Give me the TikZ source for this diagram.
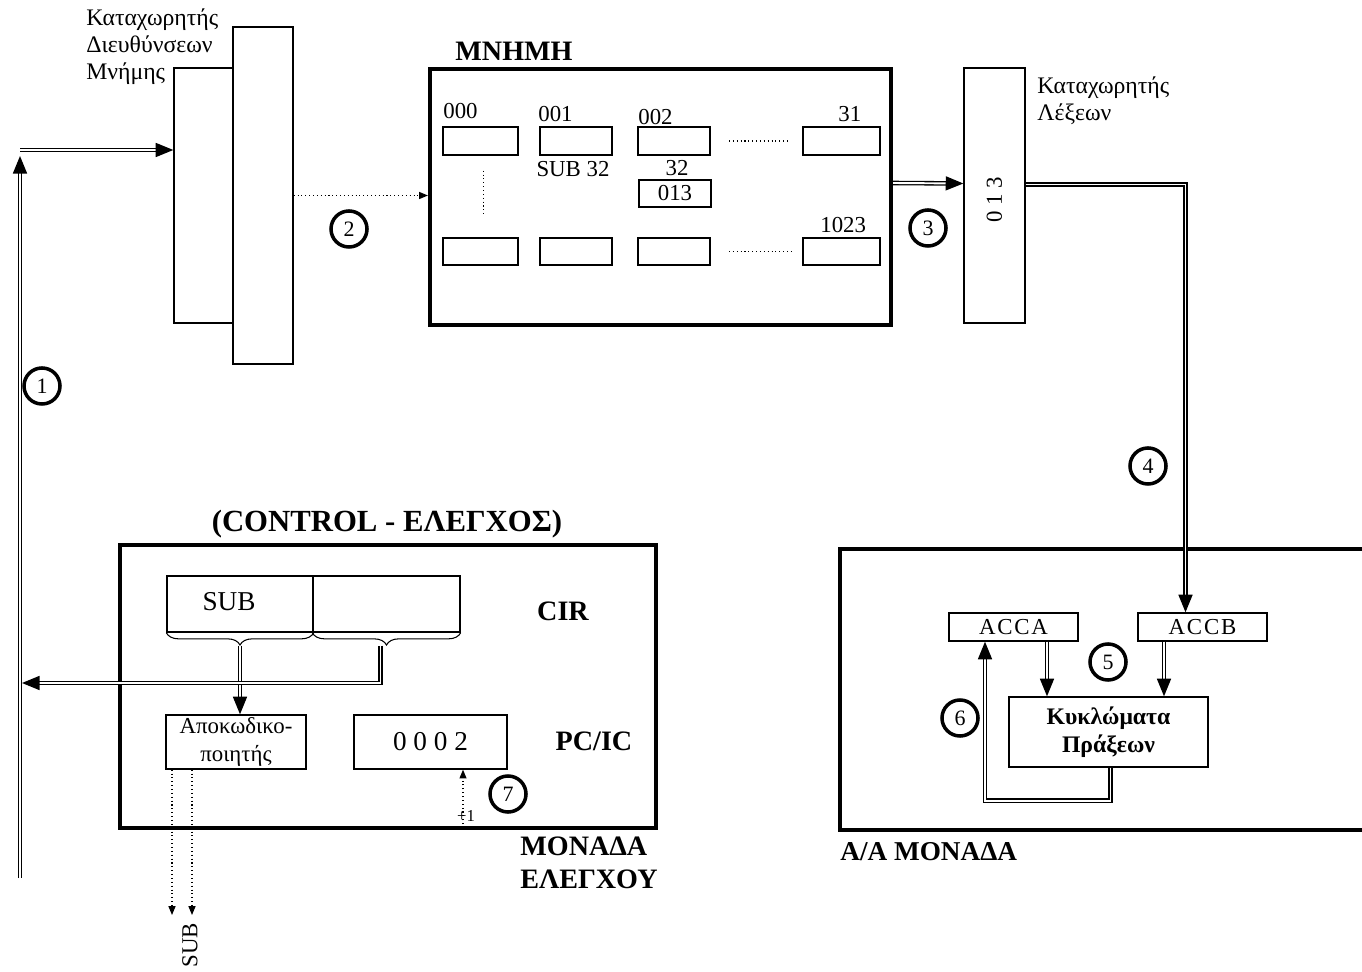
\documentclass[tikz,border=0pt]{standalone}
\usepackage{fontspec}
\setmainfont{Liberation Serif}
\usetikzlibrary{positioning,arrows.meta,calc,fit,decorations.pathreplacing}

\tikzset{
  box/.style={draw, line width=0.8pt, inner sep=0pt},
  unitbox/.style={draw, line width=2.4pt, inner sep=0pt},
  dbl/.style={double, double distance=1.1pt, line width=0.75pt},
  tip/.style={-{Triangle[length=10pt,width=8pt]}},
  smalltip/.style={-{Triangle[length=5pt,width=4pt]}},
  dots/.style={line width=0.6pt, dash pattern=on 0.6pt off 1.6pt},
  numcirc/.style={circle, draw, line width=2pt, inner sep=0pt, minimum size=20.5pt, font=\fontsize{12.5}{12.5}\selectfont},
  lbl/.style={inner sep=0pt, font=\fontsize{13}{13}\selectfont},
  title/.style={inner sep=0pt, font=\fontsize{16}{16}\selectfont\bfseries}
}

\begin{document}
\begin{tikzpicture}[x=0.02cm,y=-0.02cm]
\useasboundingbox (0,0) rectangle (1362,972);
% Address register
\node[box, fit={(174,68) (233,323)}] (marA) {};
\node[box, fit={(233,27) (293,364)}] (marB) {};
\node[lbl, anchor=north west, align=left, font=\fontsize{13.5}{15.5}\selectfont] (marlbl) at (86,8) {Καταχωρητής\\Διευθύνσεων\\Μνήμης};
% Left bus
\coordinate (busbot) at (20,878);
\coordinate (bustop) at (20,156);
\coordinate (busin) at (20,150);
\draw[dbl,tip] (busbot) -- (bustop);
\draw[dbl,tip] (busin) -- (busin -| marA.west);
\node[numcirc] (n1) at (42,386) {1};
% Memory
\node[unitbox, fit={(430,69) (891,325)}] (mem) {};
\node[title] (memlbl) at (514,51) {ΜΝΗΜΗ};
\draw[dots,smalltip] (marB.east) -- (marB.east -| mem.west);
\node[numcirc] (n2) at (349,229) {2};
\foreach \xa/\xb/\nm in {443/518/a, 540/612/b, 638/710/c, 803/880/d} {
  \node[box, fit={(\xa,127) (\xb,155)}] (top\nm) {};
  \node[box, fit={(\xa,238) (\xb,265)}] (bot\nm) {};
}
\node[box, fit={(639,180) (711,207)}] (c32) {};
\node[lbl] at (c32) {013};
\node[lbl, anchor=south west] at (443,119) {000};
\node[lbl, anchor=south west] at (538,122) {001};
\node[lbl, anchor=south west] at (638,125) {002};
\node[lbl, anchor=south west] at (838,122) {31};
\node[lbl, anchor=south west] at (820,233) {1023};
\node[lbl] at (573,169) {SUB 32};
\node[lbl] at (677,168) {32};
\draw[dots] ($(topc.east)!0.2!(topd.west)$) -- ($(topc.east)!0.85!(topd.west)$);
\draw[dots] ($(botc.east)!0.2!(botd.west)$) -- ($(botc.east)!0.88!(botd.west)$);
\draw[dots] ($(topa.south)+(3,15)$) -- ($(bota.north)+(3,-22)$);
% Word register
\node[box, fit={(964,68) (1025,323)}] (wreg) {};
\node[lbl, rotate=90] at ($(wreg.center)+(0,4)$) {0 1 3};
\node[lbl, anchor=north west, align=left, font=\fontsize{13.5}{15.5}\selectfont] (wlbl) at (1037,76) {Καταχωρητής\\Λέξεων};
\draw[dbl,tip] ($(mem.east)+(0,-14)$) -- ($(wreg.west)+(0,-12)$);
\node[numcirc] (n3) at (928,228) {3};
% Arithmetic / logic unit
\node[unitbox, fit={(840,549) (1380,830)}] (alu) {};
\node[title, anchor=north west, font=\fontsize{15.5}{15.5}\selectfont\bfseries] (alulbl) at (840,842) {Α/Α ΜΟΝΑΔΑ};
\node[box, fit={(949,613) (1078,641)}] (acca) {};
\node[box, fit={(1138,613) (1267,641)}] (accb) {};
\node[lbl, font=\fontsize{13}{13}\selectfont\addfontfeature{LetterSpace=8}] at (acca) {ACCA};
\node[lbl, font=\fontsize{13}{13}\selectfont\addfontfeature{LetterSpace=8}] at (accb) {ACCB};
\node[box, fit={(1009,697) (1208,767)}] (kykl) {};
\node[lbl, align=center, font=\fontsize{13.5}{16}\selectfont\bfseries] at (kykl) {Κυκλώματα\\Πράξεων};
\draw[dbl,tip] ($(wreg.east)+(0,-11)$) -| ($(accb.north)+(-17,0)$);
\node[numcirc] (n4) at (1148,466) {4};
\coordinate (aout) at ($(acca.south)+(33.5,0)$);
\coordinate (bout) at ($(accb.south)+(-38.5,0)$);
\coordinate (ain) at ($(acca.south)+(-28.5,0)$);
\draw[dbl,tip] (aout) -- (aout |- kykl.north);
\draw[dbl,tip] (bout) -- (bout |- kykl.north);
\draw[dbl,tip] ($(kykl.south)+(2,0)$) -- ++(0,33) -| (ain);
\node[numcirc] (n5) at (1108,662) {5};
\node[numcirc] (n6) at (960,718) {6};
% Control unit
\node[unitbox, fit={(120,545) (656,828)}] (ctrl) {};
\node[title, font=\fontsize{17.5}{17.5}\selectfont\bfseries] (ctrllbl) at (387,524) {(CONTROL - ΕΛΕΓΧΟΣ)};
\node[title, anchor=north west, align=left, font=\fontsize{16}{18.5}\selectfont\bfseries] (ctrlname) at (520,837) {ΜΟΝΑΔΑ\\ΕΛΕΓΧΟΥ};
\node[box, fit={(167,576) (313,632)}] (cirop) {};
\node[box, fit={(313,576) (460,632)}] (cirad) {};
\node[lbl, font=\fontsize{15.5}{15.5}\selectfont] at ($(cirop.center)+(-11,-2)$) {SUB};
\node[title] at (563,611) {CIR};
\node[title] at (594,741) {PC/IC};
\draw[line width=0.6pt, decorate, decoration={brace, mirror, amplitude=7pt}] (cirop.south west) -- (cirop.south east);
\draw[line width=0.6pt, decorate, decoration={brace, mirror, amplitude=7pt}] (cirad.south west) -- (cirad.south east);
\coordinate (brA) at ($(cirop.south)+(0,13)$);
\coordinate (brB) at ($(cirad.south)+(-6,13)$);
\node[box, fit={(166,715) (306,769)}] (dec) {};
\node[lbl, align=center, font=\fontsize{13}{16}\selectfont] at (dec) {Αποκωδικο-\\ποιητής};
\node[box, fit={(354,715) (507,769)}] (pc) {};
\node[lbl, font=\fontsize{15.5}{15.5}\selectfont] at (pc) {0 0 0 2};
\draw[dbl,tip] (brA) -- (brA |- dec.north);
\coordinate (busjoin) at (22,683);
\draw[dbl,tip] (brB) |- (busjoin);
\coordinate (incin) at (463,828);
\draw[dots,smalltip] (incin) -- (incin |- pc.south);
\node[lbl, font=\fontsize{9.5}{9.5}\selectfont] (inclbl) at (466,816) {+1};
\node[numcirc] (n7) at (508,794) {7};
\coordinate (subA) at (172,915);
\coordinate (subB) at (192,915);
\draw[dots,smalltip] (subA |- dec.south) -- (subA);
\draw[dots,smalltip] (subB |- dec.south) -- (subB);
\node[lbl, rotate=90, font=\fontsize{13}{13}\selectfont] (sublbl) at (190,945) {SUB};
\end{tikzpicture}
\end{document}
